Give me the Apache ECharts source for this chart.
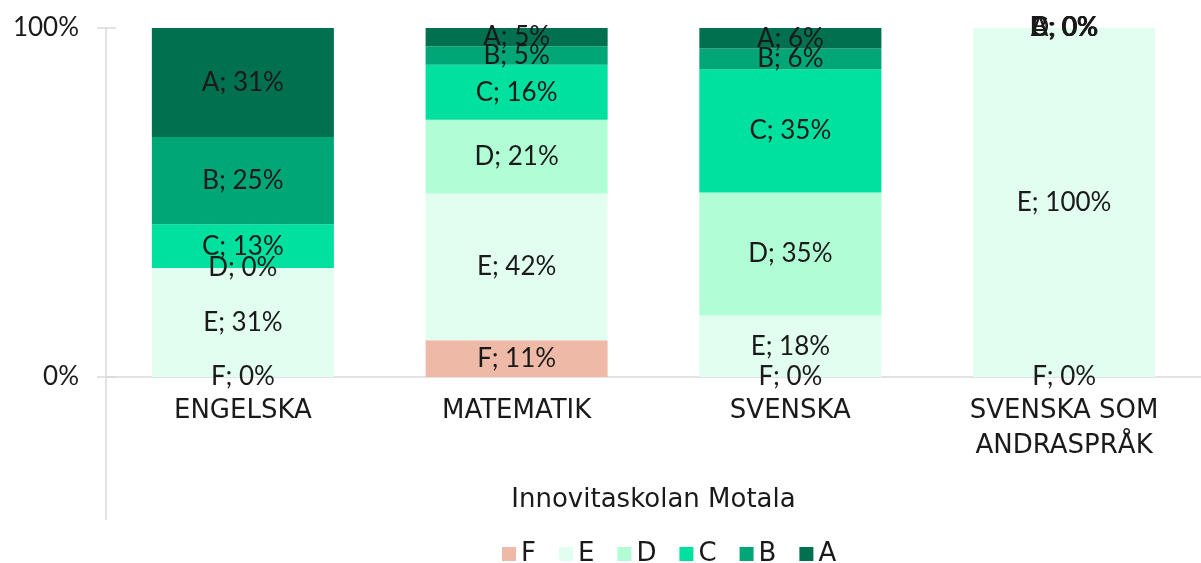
<!DOCTYPE html>
<html>
<head>
<meta charset="utf-8">
<script src="https://cdn.jsdelivr.net/npm/echarts@6/dist/echarts.min.js"></script>
<style>
  html, body { margin: 0; padding: 0; background: #fff; }
  #chart { width: 1201px; height: 563px; }
</style>
</head>
<body>
<div id="chart"></div>
<script>
// ämnen
const categories = ['ENGELSKA', 'MATEMATIK', 'SVENSKA', 'SVENSKA SOM\nANDRASPRÅK']
const grades = ['F', 'E', 'D', 'C', 'B', 'A']

// andel per betyg (%)
const gradeF = [0, 10.5, 0, 0]
const gradeE = [31.25, 42.1, 17.6, 100]
const gradeD = [0, 21.1, 35.3, 0]
const gradeC = [12.5, 15.8, 35.3, 0]
const gradeB = [25, 5.3, 5.9, 0]
const gradeA = [31.25, 5.3, 5.9, 0]

const yTicks = [0, 100]
const xTitle = 'Innovitaskolan Motala'

const colors = {
  F: '#efb9a8',
  E: '#e2fef0',
  D: '#b0fdd6',
  C: '#00e09f',
  B: '#00a676',
  A: '#00704f'
}

const numFont = 'Lato, "Open Sans", sans-serif'
const wordFont = '"DejaVu Sans", Lato, sans-serif'
const textColor = '#1a1a1a'
const lineColor = '#d9d9d9'

const seriesData = { F: gradeF, E: gradeE, D: gradeD, C: gradeC, B: gradeB, A: gradeA }

const chart = echarts.init(document.getElementById('chart'))

const option = {
  animation: false,
  textStyle: { fontFamily: numFont },
  grid: {
    left: 106,
    top: 28,
    bottom: 186,
    width: 1100
  },
  legend: {
    data: grades,
    top: 536,
    left: 497,
    itemWidth: 14,
    itemHeight: 14,
    itemGap: 23,
    icon: 'rect',
    textStyle: { fontSize: 26, color: textColor, fontFamily: wordFont }
  },
  xAxis: {
    type: 'category',
    data: categories,
    name: xTitle,
    nameLocation: 'middle',
    nameGap: 110,
    nameTextStyle: { fontSize: 26, color: textColor, fontFamily: wordFont },
    axisLine: { lineStyle: { color: lineColor, width: 1.5 } },
    axisTick: { show: false },
    axisLabel: {
      fontSize: 26,
      fontFamily: wordFont,
      color: textColor,
      margin: 17,
      lineHeight: 35,
      interval: 0
    }
  },
  yAxis: [
    {
      type: 'value',
      min: yTicks[0],
      max: yTicks[1],
      interval: 100,
      axisLine: { show: true, lineStyle: { color: lineColor, width: 1.5 } },
      axisTick: { show: true, length: 9, lineStyle: { color: lineColor, width: 1.5 } },
      splitLine: { show: false },
      axisLabel: {
        formatter: '{value}%',
        fontSize: 26,
        color: textColor,
        margin: 27
      }
    },
    {
      type: 'value',
      position: 'left',
      min: yTicks[0],
      max: yTicks[1],
      interval: 100,
      axisLine: { show: false },
      axisTick: { show: true, inside: true, length: 10, lineStyle: { color: lineColor, width: 1.5 } },
      splitLine: { show: false },
      axisLabel: { show: false }
    }
  ],
  graphic: [
    {
      type: 'line',
      shape: { x1: 106, y1: 377, x2: 106, y2: 520 },
      style: { stroke: lineColor, lineWidth: 1.5 },
      silent: true
    }
  ],
  series: grades.map(g => ({
    name: g,
    type: 'bar',
    stack: 'total',
    barWidth: '66.5%',
    data: seriesData[g],
    itemStyle: { color: colors[g] },
    label: {
      show: true,
      position: 'inside',
      fontSize: 26,
      color: textColor,
      fontFamily: numFont,
      formatter: p => `${g}; ${Math.round(p.value)}%`
    }
  }))
}

chart.setOption(option)
</script>
</body>
</html>
